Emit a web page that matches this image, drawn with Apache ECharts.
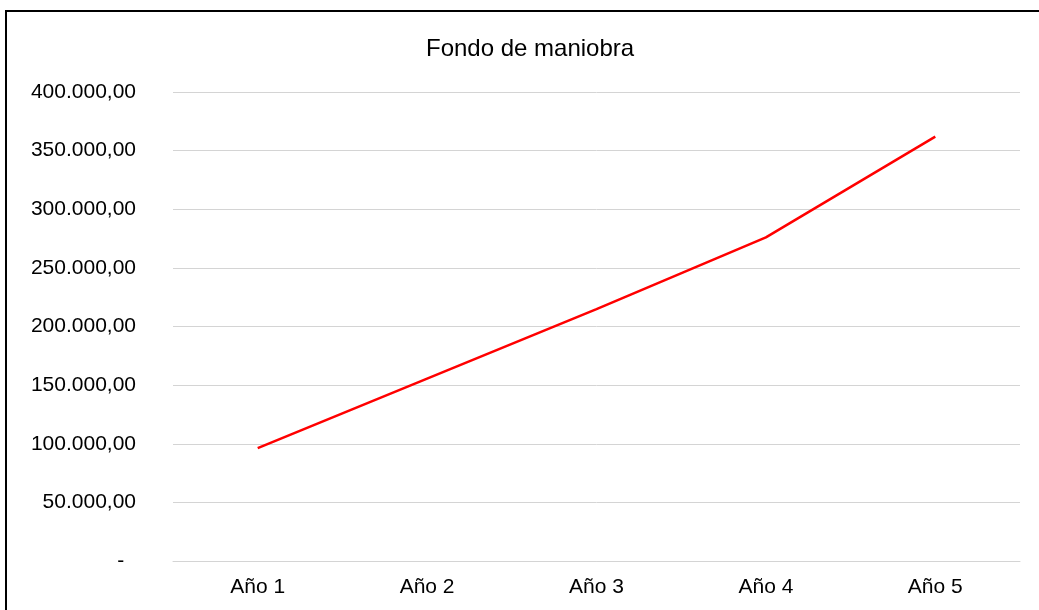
<!DOCTYPE html>
<html>
<head>
<meta charset="utf-8">
<script src="https://cdn.jsdelivr.net/npm/echarts@6/dist/echarts.min.js"></script>
<style>
  html, body { margin: 0; padding: 0; background: #fff; }
  #chart { width: 1039px; height: 610px; }
</style>
</head>
<body>
<div id="chart"></div>
<script>
const years = ['Año 1', 'Año 2', 'Año 3', 'Año 4', 'Año 5']
const fondoManiobra = [96200, 155500, 214800, 276000, 362000]

const font = '"Liberation Sans", Arial, sans-serif'

// 400000 -> "400.000,00", 0 -> "-" (accounting style, padded)
function fmt (v) {
  if (v === 0) return '-  '
  return Math.round(v).toString().replace(/\B(?=(\d{3})+(?!\d))/g, '.') + ',00'
}

const chart = echarts.init(document.getElementById('chart'))

chart.setOption({
  animation: false,
  backgroundColor: '#fff',
  title: {
    text: 'Fondo de maniobra',
    left: 421,
    top: 32,
    textStyle: { fontFamily: font, fontSize: 24, fontWeight: 'normal', color: '#000' },
  },
  grid: { left: 173, right: 19, top: 92, bottom: 49 },
  xAxis: {
    type: 'category',
    data: years,
    boundaryGap: true,
    axisLine: { lineStyle: { color: '#d4d4d4', width: 1 } },
    axisTick: { show: false },
    axisLabel: { fontFamily: font, fontSize: 21, color: '#000', margin: 16 },
  },
  yAxis: {
    type: 'value',
    min: 0,
    max: 400000,
    interval: 50000,
    axisLine: { show: false },
    axisTick: { show: false },
    splitLine: { lineStyle: { color: '#d4d4d4', width: 1 } },
    axisLabel: { fontFamily: font, fontSize: 21, color: '#000', margin: 37, formatter: fmt },
  },
  series: [{
    type: 'line',
    data: fondoManiobra,
    symbol: 'none',
    lineStyle: { color: '#ff0000', width: 2.5 },
  }],
  graphic: [{
    type: 'rect',
    shape: { x: 6, y: 11, width: 1100, height: 700 },
    style: { fill: 'none', stroke: '#000', lineWidth: 2 },
    silent: true,
  }],
})
</script>
</body>
</html>
